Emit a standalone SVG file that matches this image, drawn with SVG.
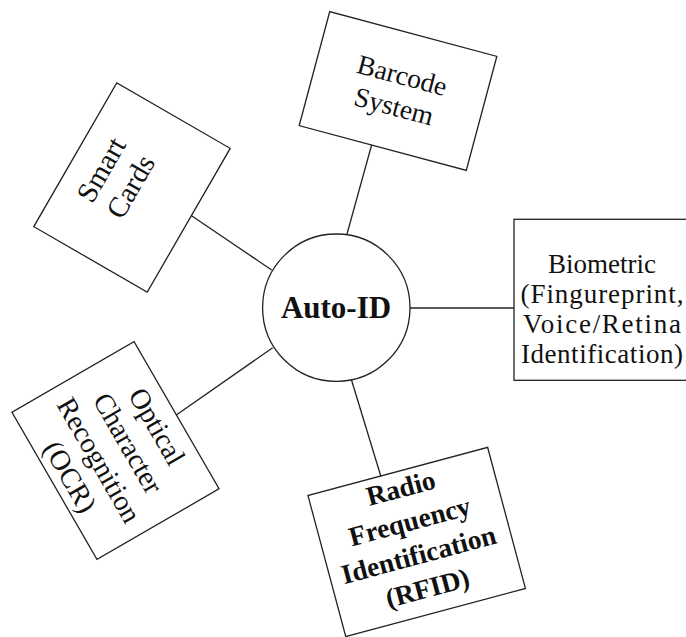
<svg xmlns="http://www.w3.org/2000/svg" width="686" height="637" viewBox="0 0 686 637">
<style>
.box{fill:#fff;stroke:#222;stroke-width:1.3}
.conn line{stroke:#222;stroke-width:1.3}
text{font-family:"Liberation Serif","Times New Roman",serif;fill:#111;text-anchor:middle}
.b{font-weight:bold}
</style>
<rect width="686" height="637" fill="#fff"/>
<g id="connectors" class="conn">
<line x1="373" y1="140" x2="347" y2="234"/>
<line x1="186" y1="212" x2="271.7" y2="270"/>
<line x1="172" y1="418" x2="272.7" y2="347.7"/>
<line x1="382" y1="480" x2="351.5" y2="380"/>
<line x1="410" y1="308" x2="520" y2="308"/>
</g>
<g id="barcode" transform="translate(398,91) rotate(15)">
<rect class="box" x="-86.5" y="-59" width="173" height="118"/>
<text font-size="27.5" y="-7">Barcode</text>
<text font-size="27.5" y="25">System</text>
</g>
<g id="smartcards" transform="translate(132,187.5) rotate(-60)">
<rect class="box" x="-83" y="-65.5" width="166" height="131"/>
<text font-size="29" y="-26">Smart</text>
<text font-size="29" y="8">Cards</text>
</g>
<g id="ocr" transform="translate(115.5,450.5) rotate(60)">
<rect class="box" x="-85" y="-70.5" width="170" height="141"/>
<text font-size="28.5" y="-38.5">Optical</text>
<text font-size="28.5" y="-5">Character</text>
<text font-size="28.5" y="28.5">Recognition</text>
<text font-size="28.5" y="62">(OCR)</text>
</g>
<g id="rfid" transform="translate(416.7,542) rotate(-15)">
<rect class="box" x="-93" y="-73" width="186" height="146"/>
<text class="b" font-size="27.5" x="-1.5" y="-47">Radio</text>
<text class="b" font-size="27.5" x="-1.5" y="-12.5">Frequency</text>
<text class="b" font-size="27.5" x="-1.5" y="22">Identification</text>
<text class="b" font-size="27.5" x="-1.5" y="56.5">(RFID)</text>
</g>
<g id="biometric">
<rect class="box" x="514" y="219.3" width="200" height="161"/>
<text font-size="27" x="602" y="273">Biometric</text>
<text font-size="27" x="602" y="303" textLength="163" lengthAdjust="spacing">(Fingureprint,</text>
<text font-size="27" x="602" y="333" textLength="158" lengthAdjust="spacing">Voice/Retina</text>
<text font-size="27" x="602" y="363" textLength="162" lengthAdjust="spacing">Identification)</text>
</g>
<g id="autoid">
<circle class="box" cx="336.3" cy="307.7" r="73.7"/>
<text class="b" font-size="31" x="336" y="318">Auto-ID</text>
</g>
</svg>
